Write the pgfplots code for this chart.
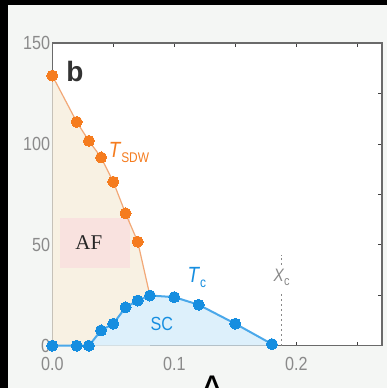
\documentclass[border=0pt]{standalone}
\usepackage{pgfplots}
\pgfplotsset{compat=1.18}
\usepackage{fontspec}
\setmainfont{Liberation Serif}
\newfontfamily\ticfont{Liberation Sans}[FakeStretch=0.85]
\newfontfamily\labfont{Liberation Sans}[FakeStretch=0.85]
\newfontfamily\boldfont{Liberation Sans}
\definecolor{bgc}{HTML}{F4F6F4}
\definecolor{orangeD}{HTML}{F57C1F}
\definecolor{orangeL}{HTML}{F2A877}
\definecolor{blueD}{HTML}{168EE0}
\definecolor{blueL}{HTML}{4AA8EA}
\definecolor{beige}{HTML}{F8F1E3}
\definecolor{skyfill}{HTML}{DDF0FB}
\definecolor{pinkbox}{HTML}{F9E2DF}
\definecolor{axgray}{HTML}{6A6A6A}
\definecolor{ticgray}{HTML}{8A8A8A}
\begin{document}
\begin{tikzpicture}[x=1pt,y=1pt]
\useasboundingbox (0,0) rectangle (387,388);
\clip (0,0) rectangle (387,388);
\fill[bgc] (0,0) rectangle (387,388);
\fill[black] (0,383) rectangle (387,388);
\fill[black] (0,0) rectangle (8,388);
\begin{axis}[
  at={(52.3pt,42.3pt)}, anchor=south west,
  scale only axis, width=329.4pt, height=302.4pt,
  xmin=0, xmax=0.27, ymin=0, ymax=150,
  axis background/.style={fill=white},
  axis line style={axgray, line width=1.6pt},
  xtick={0,0.1,0.2}, xticklabels={0.0,0.1,0.2},
  minor xtick={0.05,0.15,0.25},
  ytick={0,50,100,150}, minor ytick={25,75,125},
  tick align=inside,
  major tick length=4pt, minor tick length=4pt,
  tick style={black!75, line width=1pt},
  /pgf/number format/assume math mode=true,
  tick label style={font=\fontsize{19}{19}\ticfont, text=ticgray},
  xticklabel style={inner sep=0pt, anchor=north, yshift=-11pt},
  yticklabel style={inner sep=0pt, anchor=east, xshift=-2pt},
  clip=false,
]
% fills
\addplot[draw=none, fill=beige] coordinates {(0,134) (0.020,111) (0.030,101.6) (0.040,93.4) (0.050,81.3) (0.060,65.7) (0.070,51.6) (0.080,24.9)} \closedcycle;
\addplot[draw=none, fill=skyfill] coordinates {(0,0) (0.020,0) (0.030,0) (0.040,7.6) (0.050,10.9) (0.060,19) (0.070,22.4) (0.080,24.9) (0.100,24.1) (0.120,20.3) (0.150,10.9) (0.180,0.8)} \closedcycle;
\fill[pinkbox] (axis cs:0.0063,38.4) rectangle (axis cs:0.0636,63.2);
% lines
\addplot[orangeL, line width=1.2pt, no marks] coordinates {(0,134) (0.020,111) (0.030,101.6) (0.040,93.4) (0.050,81.3) (0.060,65.7) (0.070,51.6) (0.080,24.9)};
\addplot[blueL, line width=2pt, no marks] coordinates {(0,0) (0.020,0) (0.030,0) (0.040,7.6) (0.050,10.9) (0.060,19) (0.070,22.4) (0.080,24.9) (0.100,24.1) (0.120,20.3) (0.150,10.9) (0.180,0.8)};
% x_c dashed
\addplot[axgray!80, line width=0.8pt, dash pattern=on 2pt off 3pt, no marks] coordinates {(0.188,0) (0.188,27)};
\addplot[axgray!80, line width=0.8pt, dash pattern=on 2pt off 3pt, no marks] coordinates {(0.188,40) (0.188,45)};
% marks
\addplot[orangeD, only marks, mark=*, mark size=5.5pt, mark options={fill=orangeD, draw=orangeD, line width=0pt}] coordinates {(0,134) (0.020,111) (0.030,101.6) (0.040,93.4) (0.050,81.3) (0.060,65.7) (0.070,51.6)};
\addplot[blueD, only marks, mark=*, mark size=5.5pt, mark options={fill=blueD, draw=blueD, line width=0pt}] coordinates {(0,0) (0.020,0) (0.030,0) (0.040,7.6) (0.050,10.9) (0.060,19) (0.070,22.4) (0.080,24.9) (0.100,24.1) (0.120,20.3) (0.150,10.9) (0.180,0.8)};
% labels
\node[font=\fontsize{28}{28}\selectfont\boldfont\bfseries, text=black!80] at (axis cs:0.0186,135.8) {b};
\node[font=\fontsize{22}{22}\selectfont\labfont, text=orangeD] at (axis cs:0.0628,96) {\textit{T}\raisebox{-5pt}{\fontsize{14}{14}\selectfont SDW}};
\node[font=\fontsize{22}{22}\selectfont\labfont, text=blueD] at (axis cs:0.1185,34) {\textit{T}\raisebox{-5pt}{\fontsize{14}{14}\selectfont c}};
\node[font=\fontsize{19}{19}\selectfont\labfont, text=blueD] at (axis cs:0.0897,10.8) {SC};
\node[font=\fontsize{21}{21}\selectfont, text=black!85] at (axis cs:0.0300,51.0) {AF};
\node[font=\fontsize{18}{18}\selectfont\labfont, text=ticgray] at (axis cs:0.188,34) {\textit{X}\raisebox{-4pt}{\fontsize{13}{13}\selectfont c}};
\end{axis}
\node[anchor=north, inner sep=0pt, font=\fontsize{24}{24}\selectfont\boldfont\bfseries] at (212,12) {Δ};
\end{tikzpicture}
\end{document}
